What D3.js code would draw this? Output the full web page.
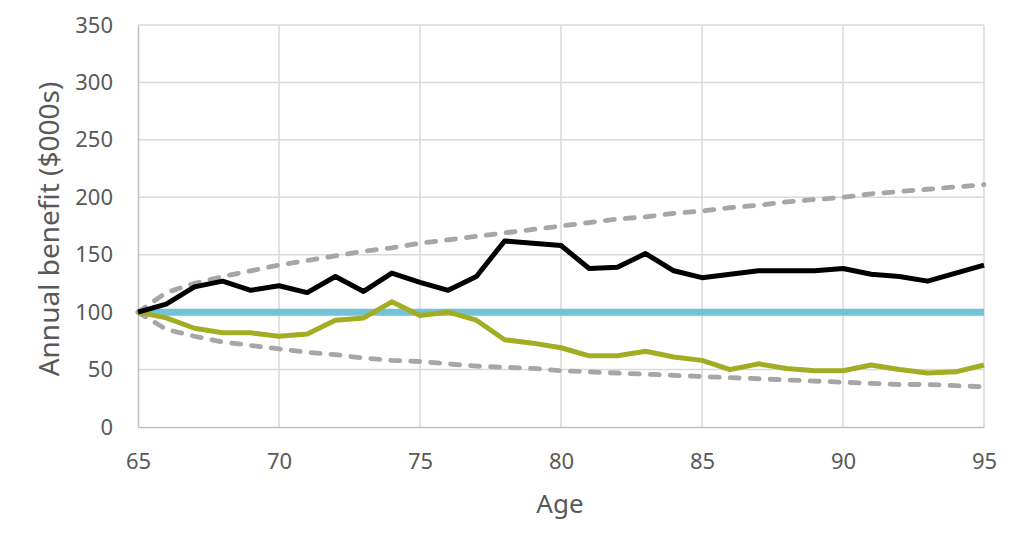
<!DOCTYPE html>
<html>
<head>
<meta charset="utf-8">
<script src="https://cdn.jsdelivr.net/npm/d3@7"></script>
<style>
  body { margin: 0; background: #fff; }
  text { font-family: "Noto Sans", "Open Sans", sans-serif; fill: #595959; }
</style>
</head>
<body>
<svg id="chart" width="1024" height="551"></svg>
<script>
const ages = d3.range(65, 96);
const blackSeries = [100,107,122,127,119,123,117,131,118,134,126,119,131,162,160,158,138,139,151,136,130,133,136,136,136,138,133,131,127,134,141];
const greenSeries = [100,95,86,82,82,79,81,93,95,109,97,100,93,76,73,69,62,62,66,61,58,50,55,51,49,49,54,50,47,48,54];
const baseline = [100,100,100,100,100,100,100,100,100,100,100,100,100,100,100,100,100,100,100,100,100,100,100,100,100,100,100,100,100,100,100];
const upperBound = [100,117,125,131,136,141,145,149,153,156,160,163,166,169,172,175,178,181,183,186,188,191,193,196,198,200,203,205,207,209,211];
const lowerBound = [100,85,79,74,71,68,65,63,60,58,57,55,53,52,51,49,48,47,46,45,44,43,42,41,40,39,38,37,37,36,35];
const xTicks = [65,70,75,80,85,90,95];
const yTicks = [0,50,100,150,200,250,300,350];

const svg = d3.select("#chart");
const mLeft = 138, mRight = 984, mTop = 25, mBottom = 427;
const x = d3.scaleLinear().domain([65, 95]).range([mLeft, mRight]);
const y = d3.scaleLinear().domain([0, 350]).range([mBottom, mTop]);

// gridlines
svg.append("g").selectAll("line").data(yTicks.filter(d => d > 0)).join("line")
  .attr("x1", mLeft).attr("x2", mRight).attr("y1", d => y(d)).attr("y2", d => y(d))
  .attr("stroke", "#d9d9d9").attr("stroke-width", 1.5);
svg.append("g").selectAll("line").data(xTicks.filter(d => d > 65)).join("line")
  .attr("x1", d => x(d)).attr("x2", d => x(d)).attr("y1", mTop).attr("y2", mBottom)
  .attr("stroke", "#d9d9d9").attr("stroke-width", 1.5);

// axes
const xAxis = svg.append("g").attr("transform", `translate(0,${mBottom})`)
  .call(d3.axisBottom(x).tickValues(xTicks).tickSize(0).tickPadding(26));
xAxis.select(".domain").attr("stroke", "#bfbfbf").attr("stroke-width", 1.5);
xAxis.selectAll("text").style("font-size", "22px").attr("fill", "#595959");

const yAxis = svg.append("g").attr("transform", `translate(${mLeft},0)`)
  .call(d3.axisLeft(y).tickValues(yTicks).tickSize(0).tickPadding(25));
yAxis.select(".domain").attr("stroke", "#bfbfbf").attr("stroke-width", 1.5);
yAxis.selectAll("text").style("font-size", "22px").attr("fill", "#595959");

const line = arr => d3.line().x((d, i) => x(ages[i])).y(d => y(d))(arr);

svg.append("path").attr("d", line(baseline)).attr("fill", "none")
  .attr("stroke", "#72c2d8").attr("stroke-width", 7);
svg.append("path").attr("d", line(upperBound)).attr("fill", "none")
  .attr("stroke", "#a6a6a6").attr("stroke-width", 4.8).attr("stroke-linecap", "round").attr("stroke-dasharray", "9,11");
svg.append("path").attr("d", line(lowerBound)).attr("fill", "none")
  .attr("stroke", "#a6a6a6").attr("stroke-width", 4.8).attr("stroke-linecap", "round").attr("stroke-dasharray", "9,11");
svg.append("path").attr("d", line(greenSeries)).attr("fill", "none")
  .attr("stroke", "#a3ad24").attr("stroke-width", 5).attr("stroke-linejoin", "round");
svg.append("path").attr("d", line(blackSeries)).attr("fill", "none")
  .attr("stroke", "#000000").attr("stroke-width", 5).attr("stroke-linejoin", "round");

// titles
svg.append("text").attr("x", 560).attr("y", 513).attr("text-anchor", "middle")
  .style("font-size", "26px").text("Age");
svg.append("text").attr("transform", `translate(49,229) rotate(-90)`)
  .attr("text-anchor", "middle").attr("dy", "0.36em").style("font-size", "28px").text("Annual benefit ($000s)");
</script>
</body>
</html>
